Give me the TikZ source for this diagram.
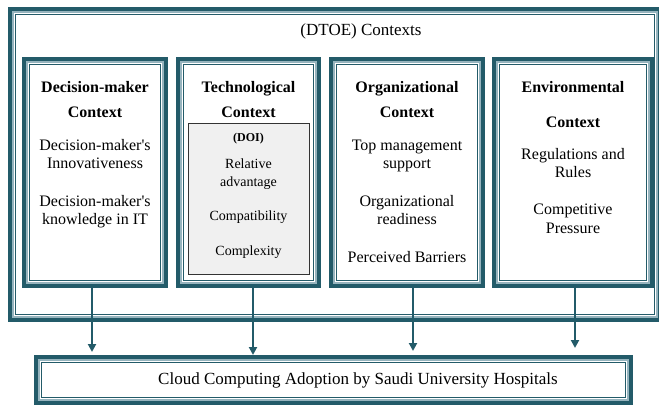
\documentclass[tikz,border=0pt]{standalone}
\usepackage{fontspec}
\setmainfont{Liberation Serif}
\usetikzlibrary{arrows.meta}
\definecolor{dteal}{HTML}{235B69}
\definecolor{lband}{HTML}{96B4BE}
\definecolor{doifill}{HTML}{F0F0F0}
\newcommand\tealframe[1]{%
 \draw[dteal,line width=4pt] ([shift={(2pt,-2pt)}]#1.north west) rectangle ([shift={(-2pt,2pt)}]#1.south east);
 \draw[lband,line width=2pt] ([shift={(5pt,-5pt)}]#1.north west) rectangle ([shift={(-5pt,5pt)}]#1.south east);
 \draw[dteal,line width=0.9pt] ([shift={(7.5pt,-7.5pt)}]#1.north west) rectangle ([shift={(-7.5pt,7.5pt)}]#1.south east);
}
\tikzset{
 box/.style={inner sep=0pt, outer sep=0pt, rectangle},
 txt/.style={anchor=base, inner sep=0pt, font=\fontsize{16}{18}\selectfont},
 hd/.style={anchor=base, inner sep=0pt, font=\fontsize{16}{18}\selectfont\bfseries},
 stxt/.style={anchor=base, inner sep=0pt, font=\fontsize{14}{16}\selectfont},
 conn/.style={dteal, line width=2pt, -{Triangle[width=8pt,length=8pt]}}
}
\begin{document}
\begin{tikzpicture}[x=1pt,y=-1pt]
\useasboundingbox (0,0) rectangle (659,406);
\clip (0,0) rectangle (659,406);
% boxes
\node[box, minimum width=654pt, minimum height=315pt] (ctx) at (335,164.5) {};
\node[box, minimum width=146pt, minimum height=231pt] (dm) at (95,172.5) {};
\node[box, minimum width=145pt, minimum height=231pt] (tech) at (248.5,172.5) {};
\node[box, minimum width=156pt, minimum height=231pt] (org) at (407,172.5) {};
\node[box, minimum width=162pt, minimum height=231pt] (env) at (573,172.5) {};
\node[box, minimum width=599pt, minimum height=50pt] (adopt) at (333.5,380) {};
\fill[white] (ctx.north west) rectangle (ctx.south east);
\tealframe{ctx}
\tealframe{dm}
\tealframe{tech}
\tealframe{org}
\tealframe{env}
\tealframe{adopt}
\node[box, minimum width=121pt, minimum height=151pt, draw=black!80, line width=1pt, fill=doifill] (doi) at (248.5,199.5) {};
% titles
\node[txt, font=\fontsize{17}{19}\selectfont] (ttl) at (361,36) {(DTOE) Contexts};
\node[txt, font=\fontsize{17}{19}\selectfont] (adt) at (358,384) {Cloud Computing Adoption by Saudi University Hospitals};
% decision-maker
\node[hd] (dm1) at (95,93) {Decision-maker};
\node[hd] (dm2) at (95,118) {Context};
\node[txt] (dm3) at (95,151) {Decision-maker\textquotesingle s};
\node[txt] (dm4) at (95,169) {Innovativeness};
\node[txt] (dm5) at (95,207) {Decision-maker\textquotesingle s};
\node[txt] (dm6) at (95,225) {knowledge in IT};
% technological
\node[hd] (te1) at (248.5,93) {Technological};
\node[hd] (te2) at (248.5,118) {Context};
\node[stxt, font=\fontsize{12}{14}\selectfont\bfseries] (te3) at (248.5,142) {(DOI)};
\node[stxt] (te4) at (248.5,169) {Relative};
\node[stxt] (te5) at (248.5,187) {advantage};
\node[stxt] (te6) at (248.5,221) {Compatibility};
\node[stxt] (te7) at (248.5,256) {Complexity};
% organizational
\node[hd] (or1) at (407,93) {Organizational};
\node[hd] (or2) at (407,118) {Context};
\node[txt] (or3) at (407,151) {Top management};
\node[txt] (or4) at (407,169) {support};
\node[txt] (or5) at (407,207) {Organizational};
\node[txt] (or6) at (407,225) {readiness};
\node[txt] (or7) at (407,262) {Perceived Barriers};
% environmental
\node[hd] (en1) at (573,93) {Environmental};
\node[hd] (en2) at (573,128) {Context};
\node[txt] (en3) at (573,160) {Regulations and};
\node[txt] (en4) at (573,178) {Rules};
\node[txt] (en5) at (573,215) {Competitive};
\node[txt] (en6) at (573,234) {Pressure};
% connectors
\coordinate (a1) at (92,352);
\coordinate (a2) at (253,355);
\coordinate (a3) at (413,351);
\coordinate (a4) at (575,348);
\draw[conn] (dm.south -| a1) -- (a1);
\draw[conn] (tech.south -| a2) -- (a2);
\draw[conn] (org.south -| a3) -- (a3);
\draw[conn] (env.south -| a4) -- (a4);
\end{tikzpicture}
\end{document}
